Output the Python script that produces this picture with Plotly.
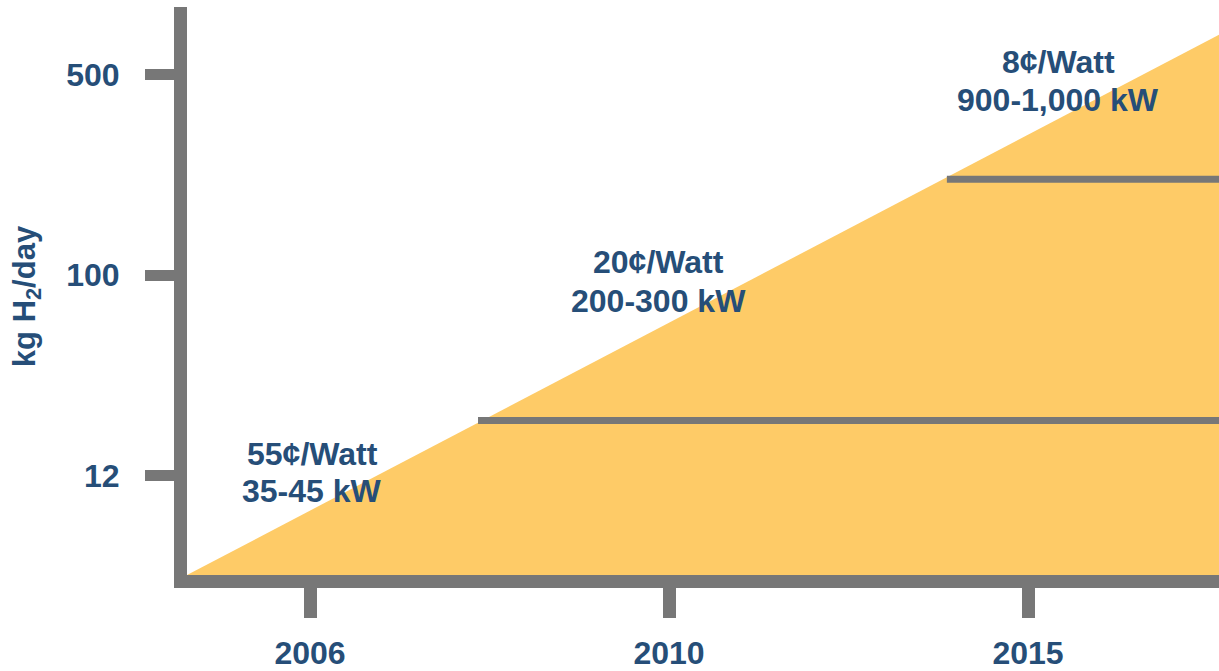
import plotly.graph_objects as go

# ---- data ----
years = ["2006", "2010", "2015"]            # x tick labels (evenly spaced tiers)
year_pos = [1, 2, 3]
capacity = ["12", "100", "500"]            # y tick labels (kg H2/day, evenly spaced tiers)
cap_pos = [1, 2, 3]

# growth wedge (in tier units)
wedge_x = [0.6574, 3.532, 3.532]
wedge_y = [0.5025, 3.199, 0.5025]

# tier boundary lines: start x, level y, end x
tier_start = [1.468, 2.774]
tier_level = [1.274, 2.478]
tier_end = [3.532, 3.532]

# annotation labels (two lines each)
label_cost = ["55¢/Watt", "20¢/Watt", "8¢/Watt"]
label_power = ["35-45 kW", "200-300 kW", "900-1,000 kW"]
label_x = [1.0056, 1.972, 3.084]
cost_y = [1.1045, 2.0647, 3.0622]
power_y = [0.9204, 1.8706, 2.8756]

GRAY = "#777777"
BLUE = "#264E78"
YELLOW = "#FECB67"
FONT = "Liberation Sans, Arial, sans-serif"

fig = go.Figure()
fig.add_trace(go.Scatter(x=wedge_x, y=wedge_y, fill="toself", fillcolor=YELLOW,
                         mode="none", hoverinfo="skip", showlegend=False))
for xs, yl, xe in zip(tier_start, tier_level, tier_end):
    fig.add_trace(go.Scatter(x=[xs, xe], y=[yl, yl], mode="lines",
                             line=dict(color=GRAY, width=7), showlegend=False,
                             hoverinfo="skip"))

afont = dict(family=FONT, size=32, color=BLUE, weight="bold")
for c, p, x, yc, yp in zip(label_cost, label_power, label_x, cost_y, power_y):
    fig.add_annotation(x=x, y=yc, xref="x", yref="y", text=c, showarrow=False,
                       xanchor="center", yanchor="middle", font=afont)
    fig.add_annotation(x=x, y=yp, xref="x", yref="y", text=p, showarrow=False,
                       xanchor="center", yanchor="middle", font=afont)

fig.add_annotation(x=-0.155, y=0.491, xref="paper", yref="paper",
                   xanchor="center", yanchor="middle",
                   text="kg H<sub>2</sub>/day", textangle=-90, showarrow=False,
                   font=dict(family=FONT, size=31, color=BLUE, weight="bold"))

tfont = dict(family=FONT, size=32, color=BLUE, weight="bold")
fig.update_layout(
    width=1219, height=671,
    margin=dict(l=187, r=0, t=7, b=90),
    paper_bgcolor="white", plot_bgcolor="white",
    xaxis=dict(range=[0.6574, 3.532], tickvals=year_pos, ticktext=years,
               showgrid=False, zeroline=False, showline=True, linecolor=GRAY,
               linewidth=13, ticks="outside", ticklen=30, tickwidth=13,
               tickcolor=GRAY, ticklabelstandoff=8, tickfont=tfont),
    yaxis=dict(range=[0.5025, 3.338], tickvals=cap_pos, ticktext=capacity,
               showgrid=False, zeroline=False, showline=True, linecolor=GRAY,
               linewidth=13, ticks="outside", ticklen=29, tickwidth=11,
               tickcolor=GRAY, ticklabelstandoff=19, tickfont=tfont),
)

fig.write_html("out.html", config={"displayModeBar": False},
               post_script="document.body.style.margin='0';")
